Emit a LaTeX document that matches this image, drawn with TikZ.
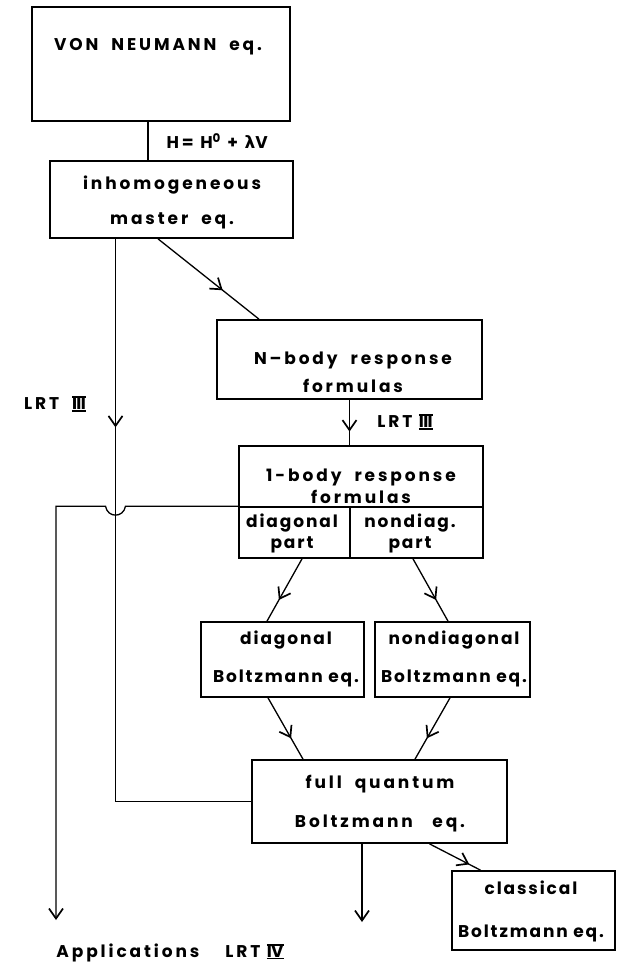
\documentclass[tikz,border=0pt]{standalone}
\usepackage{fontspec}
\setmainfont{Poppins}[LetterSpace=17]
\newfontfamily\grkfont{DejaVu Sans}
\usetikzlibrary{arrows.meta,decorations.markings}

% roman numeral with bars on top and bottom
\newcommand{\romn}[1]{\raisebox{-1.6pt}{\vbox{\hrule height 1.6pt\hbox{\addfontfeature{LetterSpace=-4}#1}\hrule height 1.6pt}}}
\newcommand{\tight}{\addfontfeature{LetterSpace=11}}

\tikzset{
  box/.style={draw, line width=1.7pt, inner sep=0pt},
  txt/.style={inner sep=0pt, align=center, font=\fontsize{17}{#1}\selectfont\bfseries},
  txt/.default=20,
  link/.style={line width=1.3pt},
  tip/.style={-{Straight Barb[length=10pt,width=14pt,line width=1.7pt]}},
  midarrow/.style={postaction={decorate}, decoration={markings,
    mark=at position #1 with {\arrow{Straight Barb[length=10pt,width=14pt,line width=1.7pt]}}}},
}

\begin{document}
\begin{tikzpicture}[x=1pt, y=-1pt]
\useasboundingbox (0,0) rectangle (616,963);

% boxes
\node[box, minimum width=258pt, minimum height=114pt] (vn) at (161,64) {};
\node[box, minimum width=243pt, minimum height=77pt] (inh) at (171.5,199.5) {};
\node[box, minimum width=265pt, minimum height=79pt] (nb) at (349.5,359.5) {};
\node[box, minimum width=244pt, minimum height=61pt] (onebody) at (361,476.5) {};
\node[box, minimum width=111pt, minimum height=51pt] (dpart) at (294.5,532.5) {};
\node[box, minimum width=133pt, minimum height=51pt] (npart) at (416.5,532.5) {};
\node[box, minimum width=163pt, minimum height=75pt] (diag) at (282.5,659.5) {};
\node[box, minimum width=155pt, minimum height=75pt] (ndiag) at (452.5,659.5) {};
\node[box, minimum width=255pt, minimum height=83pt] (fq) at (379.5,801.5) {};
\node[box, minimum width=163pt, minimum height=79pt] (cl) at (533.5,910.5) {};

% texts
\node[txt] (vntxt) at (158,47) {VON~~NEUMANN~~eq.};
\node[txt=35] (inhtxt) at (172,202.5) {inhomogeneous\\master~~eq.};
\node[txt=28] (nbtxt) at (353,372) {N\,--\,body~~response\\formulas};
\node[txt=22] (onetxt) at (361,486) {1-body~~response\\formulas};
\node[txt=21] (dparttxt) at (292,533.5) {\tight diagonal\\\tight part};
\node[txt=21] (nparttxt) at (410,533.5) {\tight nondiag.\\\tight part};
\node[txt=38] (diagtxt) at (286,659) {\tight diagonal\\\tight Boltzmann eq.};
\node[txt=38] (ndiagtxt) at (454,659) {\tight nondiagonal\\\tight Boltzmann eq.};
\node[txt=39] (fqtxt) at (380,803.5) {full~~quantum\\Boltzmann~~~eq.};
\node[txt=43] (cltxt) at (531,911.5) {\tight classical\\\tight Boltzmann eq.};
\node[txt] (lrtl) at (55,404) {LRT~~\romn{III}};
\node[txt] (lrtr) at (405,422) {LRT~\romn{III}};
\node[txt] (apps) at (170,953) {Applications~~~~LRT~\romn{IV}};

% connectors
\draw[link] ([xshift=-13pt]vn.south) -- ([xshift=-13pt]vn.south |- inh.north)
  node[midway, txt, anchor=west, xshift=18pt] (hlbl) {H= H\textsuperscript{0} + {\grkfont\bfseries λ}V};
\draw[link, midarrow=0.64] ([xshift=-13.5pt]inh.south) -- ([xshift=-90.5pt]nb.north);
\draw[link, midarrow=0.27] ([xshift=-56pt]inh.south) |- (fq.west);
\draw[link, midarrow=0.7] (nb.south) -- (nb.south |- onebody.north);
\draw[link, midarrow=0.66] ([xshift=7.5pt]dpart.south) -- ([xshift=-15.5pt]diag.north);
\draw[link, midarrow=0.66] ([xshift=-3.5pt]npart.south) -- ([xshift=-4.5pt]ndiag.north);
\draw[link, midarrow=0.66] ([xshift=-14.5pt]diag.south) -- ([xshift=-76.5pt]fq.north);
\draw[link, midarrow=0.66] ([xshift=-2.5pt]ndiag.south) -- ([xshift=35.5pt]fq.north);
\draw[link, midarrow=0.78] ([xshift=50pt]fq.south) -- ([xshift=-53pt]cl.north);

\coordinate (hop) at ([xshift=-56pt]inh.south |- dpart.north west);
\coordinate (appsend) at (56,920);
\coordinate (fqend) at (362,922);
\draw[link, tip] (dpart.north west) -- ([xshift=10pt]hop)
  .. controls ([xshift=8pt,yshift=-12pt]hop) and ([xshift=-8pt,yshift=-12pt]hop) .. ([xshift=-10pt]hop)
  -- (appsend |- hop) -- (appsend);
\draw[link, tip] (fqend |- fq.south) -- (fqend);
\end{tikzpicture}
\end{document}
